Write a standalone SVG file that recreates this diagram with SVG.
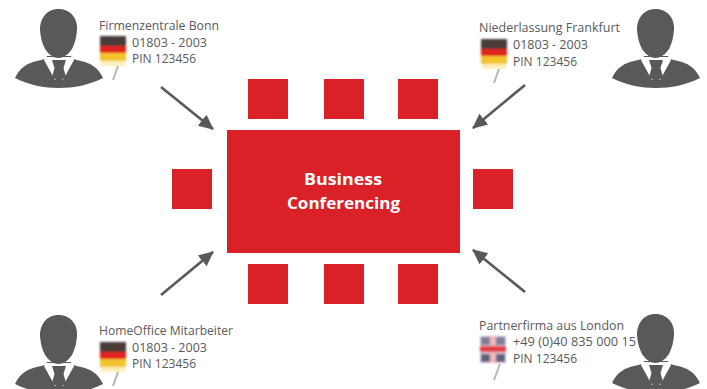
<svg xmlns="http://www.w3.org/2000/svg" xmlns:xlink="http://www.w3.org/1999/xlink" width="707" height="389" viewBox="0 0 707 389">
<style>
.bg{fill:#fff}
.r{fill:#da2128}
.p{fill:#58595b}
.w{fill:#fff}
.t{font-family:"Open Sans","Liberation Sans",sans-serif;font-size:12px;fill:#58595b}
.h{font-family:"Open Sans","Liberation Sans",sans-serif;font-size:16.5px;font-weight:700;fill:#fff}
.c{stroke:#58595b;stroke-width:2.6;fill:none;marker-end:url(#a)}
.pole{stroke:#b5b5b5;stroke-width:2;fill:none}
</style>
<defs>
<marker id="a" markerUnits="userSpaceOnUse" markerWidth="18" markerHeight="18" refX="14" refY="8" orient="auto">
<path d="M0 1L15 8L0 15Z" fill="#58595b"/>
</marker>
<filter id="b" x="-20%" y="-20%" width="140%" height="140%"><feGaussianBlur stdDeviation="0.8"/></filter>
<g id="person">
<path class="p" d="M-44 45C-39 34-31 30-22 28C-17 27-13 26-12 23L12 23C13 26 17 27 22 28C31 30 39 34 44 45C30 52 15 55 0 55C-15 55-30 52-44 45Z"/>
<path class="w" d="M-14 24L14 24L15 27L4 47L-4 47L-15 27Z"/>
<path class="p" d="M-7 27L7 27L4.500 35L7 44L0 49L-7 44L-4.500 35Z"/>
<path class="p" d="M-0.5 -24C12 -24 19 -14 18 -3C17.500 4 16 10 13 16C9 22 4 25 -0.500 25C-5 25-10 22-14 16C-17 10-18.500 4-19 -3C-19 -14-13 -24-0.500 -24Z"/>
</g>
<g id="de">
<g filter="url(#b)">
<rect x="0" y="0" width="26" height="10" fill="#4a3a38"/>
<rect x="0" y="10" width="26" height="7" fill="#e2231a"/>
<rect x="0" y="17" width="26" height="8" fill="#f2c52e"/>
<rect x="1" y="25" width="24" height="5" fill="#fdeeb8"/>
</g>
<path class="pole" d="M18 30L13 44" />
</g>
<g id="uk">
<g filter="url(#b)">
<rect x="0" y="0" width="26" height="27" fill="#d5c6d2"/>
<rect x="1" y="1" width="9" height="8" fill="#7d7f9c"/>
<rect x="16" y="1" width="9" height="8" fill="#7d7f9c"/>
<rect x="1" y="18" width="9" height="8" fill="#5d6480"/>
<rect x="16" y="18" width="9" height="8" fill="#5d6480"/>
<rect x="10" y="0" width="6" height="27" fill="#f2b6bb"/>
<rect x="0" y="10" width="26" height="6" fill="#e2404a"/>
</g>
<path class="pole" d="M20 28L14 44"/>
</g>
</defs>
<rect class="bg" width="707" height="389"/>
<g id="connectors">
<path class="c" d="M161 87L213 129"/>
<path class="c" d="M525 85L473 128"/>
<path class="c" d="M161 295L213 252"/>
<path class="c" d="M525 292L473 250"/>
</g>
<g id="center"><rect class="r" x="227" y="130" width="233" height="123"/>
<text class="h" x="304" y="185" textLength="78" lengthAdjust="spacingAndGlyphs">Business</text>
<text class="h" x="287" y="209" textLength="113" lengthAdjust="spacingAndGlyphs">Conferencing</text></g>
<g id="seat-t1"><rect class="r" x="248" y="79" width="40" height="40"/></g>
<g id="seat-t2"><rect class="r" x="324" y="79" width="40" height="40"/></g>
<g id="seat-t3"><rect class="r" x="398" y="79" width="40" height="40"/></g>
<g id="seat-b1"><rect class="r" x="248" y="264" width="40" height="40"/></g>
<g id="seat-b2"><rect class="r" x="324" y="264" width="40" height="40"/></g>
<g id="seat-b3"><rect class="r" x="398" y="264" width="40" height="40"/></g>
<g id="seat-l"><rect class="r" x="172" y="169" width="40" height="40"/></g>
<g id="seat-r"><rect class="r" x="473" y="169" width="40" height="40"/></g>
<g id="bonn"><use xlink:href="#person" href="#person" x="59" y="33"/><use xlink:href="#de" href="#de" x="100" y="36"/>
<text class="t" x="99" y="30" textLength="120" lengthAdjust="spacingAndGlyphs">Firmenzentrale Bonn</text><text class="t" x="132" y="47" textLength="75" lengthAdjust="spacingAndGlyphs">01803 - 2003</text><text class="t" x="132" y="63" textLength="64" lengthAdjust="spacingAndGlyphs">PIN 123456</text></g>
<g id="frankfurt"><use xlink:href="#person" href="#person" x="656" y="33"/><use xlink:href="#de" href="#de" x="481" y="39"/>
<text class="t" x="479" y="32" textLength="141" lengthAdjust="spacingAndGlyphs">Niederlassung Frankfurt</text><text class="t" x="513" y="49" textLength="75" lengthAdjust="spacingAndGlyphs">01803 - 2003</text><text class="t" x="513" y="66" textLength="64" lengthAdjust="spacingAndGlyphs">PIN 123456</text></g>
<g id="homeoffice"><use xlink:href="#person" href="#person" x="59" y="339"/><use xlink:href="#de" href="#de" x="100" y="342"/>
<text class="t" x="99" y="335" textLength="134" lengthAdjust="spacingAndGlyphs">HomeOffice Mitarbeiter</text><text class="t" x="132" y="352" textLength="75" lengthAdjust="spacingAndGlyphs">01803 - 2003</text><text class="t" x="132" y="368" textLength="64" lengthAdjust="spacingAndGlyphs">PIN 123456</text></g>
<g id="london"><use xlink:href="#person" href="#person" x="656" y="338"/><use xlink:href="#uk" href="#uk" x="480" y="336"/>
<text class="t" x="479" y="330" textLength="145" lengthAdjust="spacingAndGlyphs">Partnerfirma aus London</text><text class="t" x="513" y="346" textLength="123" lengthAdjust="spacingAndGlyphs">+49 (0)40 835 000 15</text><text class="t" x="513" y="363" textLength="64" lengthAdjust="spacingAndGlyphs">PIN 123456</text></g>
</svg>
